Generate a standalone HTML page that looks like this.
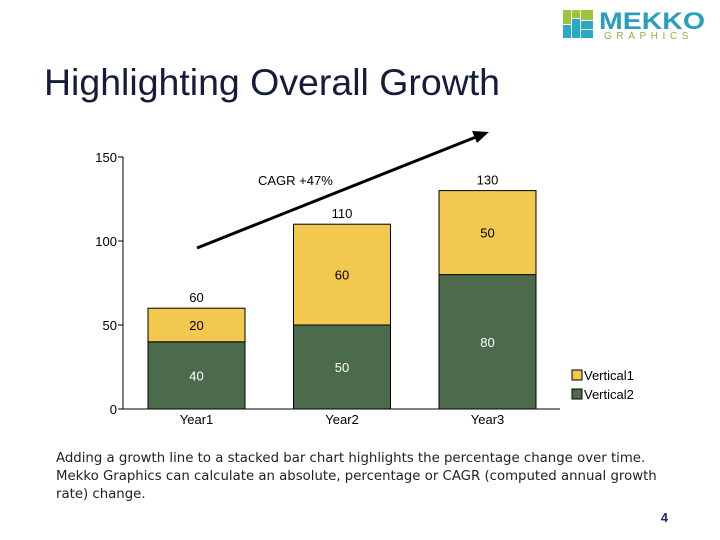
<!DOCTYPE html>
<html><head><meta charset="utf-8"><style>
body{margin:0;background:#fff;font-family:"Liberation Sans",sans-serif;}
#wrap{position:relative;width:720px;height:540px;overflow:hidden;}
</style></head><body>
<div id="wrap">
<svg width="720" height="540" style="position:absolute;left:0;top:0">
  <g>
    <rect x="563" y="10" width="8" height="14" fill="#9cc43c"/>
    <rect x="572" y="10" width="8" height="8" fill="#9cc43c"/>
    <rect x="581" y="10" width="12" height="10" fill="#9cc43c"/>
    <rect x="563" y="25" width="8" height="13" fill="#2aa8c4"/>
    <rect x="572" y="19" width="8" height="19" fill="#2aa8c4"/>
    <rect x="581" y="21" width="12" height="8" fill="#2aa8c4"/>
    <rect x="581" y="30" width="12" height="8" fill="#2aa8c4"/>
    <text x="599" y="29" font-size="24" font-weight="bold" fill="#2a9fbd" font-family="Liberation Sans, sans-serif" textLength="106" lengthAdjust="spacingAndGlyphs">MEKKO</text>
    <text x="604" y="39" font-size="10" fill="#8ab43c" letter-spacing="4.6" font-family="Liberation Sans, sans-serif">GRAPHICS</text>
  </g>
  <text x="44" y="95" font-size="37" fill="#141c3c" textLength="456" lengthAdjust="spacingAndGlyphs">Highlighting Overall Growth</text>
  <g id="chart"></g>
  <text font-size="13.3" fill="#222" font-family="DejaVu Sans, sans-serif">
    <tspan x="56" y="462">Adding a growth line to a stacked bar chart highlights the percentage change over time.</tspan>
    <tspan x="56" y="480">Mekko Graphics can calculate an absolute, percentage or CAGR (computed annual growth</tspan>
    <tspan x="56" y="498">rate) change.</tspan>
  </text>
  <text x="668" y="522" font-size="13" font-weight="bold" fill="#1a2a6c" text-anchor="end">4</text>
</svg>
</div>
<script>
const categories=["Year1","Year2","Year3"];
const vertical2=[40,50,80];
const vertical1=[20,60,50];
const yTicks=[0,50,100,150];
const cagrLabel="CAGR  +47%";
const NS="http://www.w3.org/2000/svg";
const g=document.getElementById('chart');
const y0=409,pxPer=252/150;
const y=v=>y0-v*pxPer;
const barX=i=>148+i*145.5, barW=97;
function mk(t,a,txt){const e=document.createElementNS(NS,t);for(const k in a)e.setAttribute(k,a[k]);if(txt!==undefined)e.textContent=txt;g.appendChild(e);return e;}
let e=mk('line',{x1:123,y1:y(150),x2:123,y2:y0,stroke:'#000','stroke-width':1});


e=mk('line',{x1:123,y1:y0,x2:560,y2:y0,stroke:'#000','stroke-width':1});


yTicks.forEach(t=>{
  e=mk('line',{x1:118,y1:y(t),x2:123,y2:y(t),stroke:'#000'});
  
  
  e=mk('text',{x:117,y:y(t)+5,'font-size':13,'text-anchor':'end',fill:'#000'},t);
  
  
});
categories.forEach((c,i)=>{
  const x=barX(i),a=vertical2[i],b=vertical1[i];
  e=mk('rect',{x:x,y:y(a),width:barW,height:a*pxPer,fill:'#4c6b4c',stroke:'#000','stroke-width':1});
  
  
  e=mk('rect',{x:x,y:y(a+b),width:barW,height:b*pxPer,fill:'#f2c84e',stroke:'#000','stroke-width':1});
  
  
  e=mk('text',{x:x+barW/2,y:y(a/2)+5,'font-size':13,'text-anchor':'middle',fill:'#fff'},a);
  
  
  e=mk('text',{x:x+barW/2,y:y(a+b/2)+5,'font-size':13,'text-anchor':'middle',fill:'#000'},b);
  
  
  e=mk('text',{x:x+barW/2,y:y(a+b)-6,'font-size':13,'text-anchor':'middle',fill:'#000'},a+b);
  
  
  e=mk('text',{x:x+barW/2,y:424,'font-size':13,'text-anchor':'middle',fill:'#000'},c);
  
  
});
e=mk('line',{x1:197,y1:248,x2:476,y2:137,stroke:'#000','stroke-width':3});


e=mk('polygon',{points:'489,132 472,131 477,143',fill:'#000'});


e=mk('text',{x:258,y:185,'font-size':13,fill:'#000'},cagrLabel);


[['Vertical1','#f2c84e',370],['Vertical2','#4c6b4c',389]].forEach(([n,c,yy])=>{
  e=mk('rect',{x:572,y:yy,width:10,height:10,fill:c,stroke:'#000','stroke-width':1});
  
  
  e=mk('text',{x:584,y:yy+10,'font-size':13,fill:'#000'},n);
  
  
});
</script>
</body></html>
